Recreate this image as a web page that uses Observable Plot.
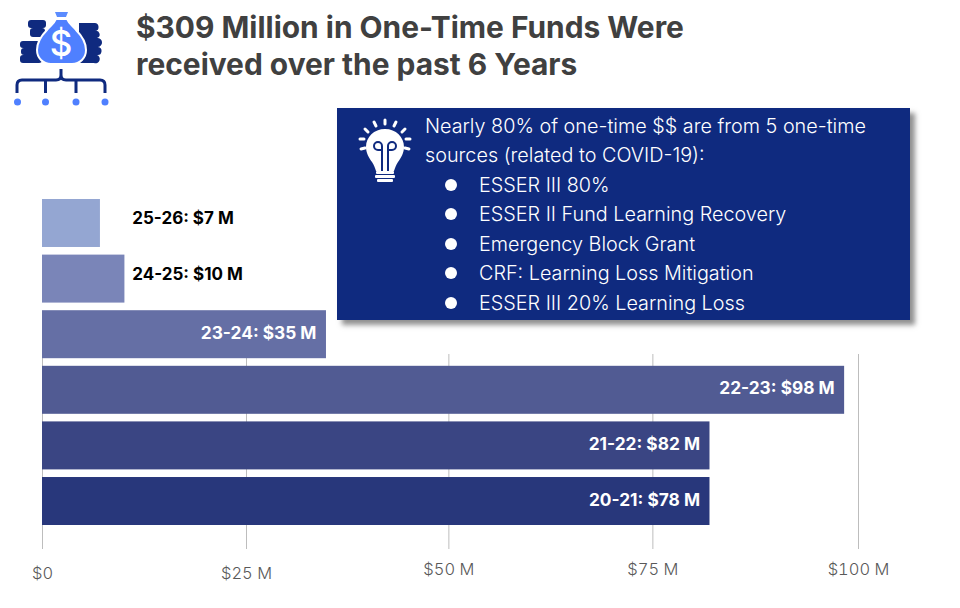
<!DOCTYPE html>
<html lang="en">
<head>
<meta charset="UTF-8">
<title>One-Time Funds</title>
<style>
  body { margin: 0; background: #fff; font-family: Inter, "Open Sans", sans-serif; }
  #page { position: relative; width: 960px; height: 608px; overflow: hidden; }
  #chart { position: absolute; left: 0; top: 0; }
  #icon { position: absolute; left: 0; top: 0; }
  h1 { position: absolute; left: 136px; top: 9px; margin: 0; font-size: 29.9px; line-height: 37px; font-weight: 700; color: #404040; white-space: nowrap; }
  #panel { position: absolute; left: 337px; top: 108px; width: 573px; height: 212px; background: #0f2a7f; color: #fff; box-shadow: 5px 5px 5px rgba(70,70,70,.6); font-size: 19.8px; font-weight: 300; }
  #panel .line { position: absolute; left: 88px; white-space: nowrap; line-height: 29px; }
  #panel ul { position: absolute; left: 0; top: 63px; margin: 0; padding: 0; list-style: none; }
  #panel li { position: relative; padding-left: 142px; height: 29.4px; line-height: 29.4px; white-space: nowrap; }
  #panel li::before { content: ""; position: absolute; left: 108px; top: 8px; width: 12px; height: 12px; border-radius: 50%; background: #fff; }
  #bulb { position: absolute; left: 0; top: 0; }
</style>
<script src="https://cdn.jsdelivr.net/npm/d3@7"></script>
<script src="https://cdn.jsdelivr.net/npm/@observablehq/plot@0.6"></script>
</head>
<body>
<div id="page">
  <div id="chart"></div>
  <svg id="icon" width="130" height="110" viewBox="0 0 130 110">
    <!-- coin stacks -->
    <g fill="#0f2a7f">
      <rect x="28" y="20" width="18" height="8" rx="3"/><rect x="30" y="28" width="15" height="9" rx="3"/>
      <rect x="20" y="41" width="20" height="7" rx="3"/><rect x="21" y="48" width="20" height="7" rx="3"/><rect x="20" y="55" width="22" height="8" rx="3"/>
      <path d="M79 23h15a3 3 0 0 1 1 8a3 3 0 0 1 2 7a3 3 0 0 1 1 9a3 3 0 0 1-1 8a3 3 0 0 1-3 8H79z"/>
    </g>
    <!-- bag -->
    <path fill="#5b8cff" d="M55 12h13l-2 5h-9z"/>
    <path fill="#4f80ff" stroke="#fff" stroke-width="2" d="M56 19h11c2 5 6 7 9 11 6 6 10 14 10 20 0 8-6 14-14 14H51c-8 0-14-6-14-14 0-6 4-14 10-20 3-4 7-6 9-11z"/>
    <text x="61" y="56" text-anchor="middle" font-size="35" font-weight="500" fill="#fff">$</text>
    <!-- tree -->
    <path fill="none" stroke="#0f2a7f" stroke-width="3" d="M61 69v6q0 5-5 5H22q-5 0-5 5v8M61 75q0 5 5 5h34q5 0 5 5v8M45.500 80v13M76 80v13"/>
    <g fill="#4f80ff">
      <circle cx="17.500" cy="102" r="3.500"/><circle cx="45.500" cy="102" r="3.500"/><circle cx="76" cy="102" r="3.500"/><circle cx="105" cy="102" r="3.500"/>
    </g>
  </svg>
  <h1>$309 Million in One-Time Funds Were<br>received over the past 6 Years</h1>
  <div id="panel">
    <svg id="bulb" width="90" height="90" viewBox="0 0 90 90">
      <g fill="none" stroke="#fff" stroke-width="3" stroke-linecap="round">
        <path d="M48 12v4M37 14l2 4M59 14l-2 4M28 21l3 3M68 21l-3 3M23 31h4M73 31h-4M24 41l4-1M72 41l-4-1"/>
      </g>
      <path fill="#fff" d="M48 21c-11 0-19 8-19 18 0 6 3 11 6 15 2 3 3 6 4 9h18c1-3 2-6 4-9 3-4 6-9 6-15 0-10-8-18-19-18z"/>
      <g fill="none" stroke="#0f2a7f" stroke-width="2">
        <path d="M45 63V38a4 4 0 1 0-4 4h4M51 63V38a4 4 0 1 1 4 4h-4"/>
      </g>
      <g fill="#fff">
        <rect x="39" y="63" width="18" height="3" rx="1"/><rect x="38" y="67" width="20" height="3" rx="1"/><rect x="40" y="71" width="16" height="3" rx="1"/>
      </g>
    </svg>
    <div class="line" style="top:4px">Nearly 80% of one-time $$ are from 5 one-time</div>
    <div class="line" style="top:33px">sources (related to COVID-19):</div>
    <ul id="sources"></ul>
  </div>
</div>
<script>
// Values
const years = ["25-26", "24-25", "23-24", "22-23", "21-22", "20-21"];
const barValues = [7.1, 10.1, 34.8, 98.3, 81.8, 81.8];
const labelValues = [7, 10, 35, 98, 82, 78];
const barColors = ["#94a6d2", "#7a85b8", "#656fa5", "#515b93", "#3a4583", "#28377b"];
// gridlines in the original are not quite evenly spaced
const tickValues = [0, 25, 49.8, 74.8, 100];
const tickLabels = ["$0", "$25 M", "$50 M", "$75 M", "$100 M"];
const sources = [
  "ESSER III 80%",
  "ESSER II Fund Learning Recovery",
  "Emergency Block Grant",
  "CRF: Learning Loss Mitigation",
  "ESSER III 20% Learning Loss"
];

const rows = years.map((year, i) => ({
  year,
  value: barValues[i],
  label: `${year}: $${labelValues[i]} M`
}));
const outside = rows.filter(d => d.value < 15);
const inside = rows.filter(d => d.value >= 15);
const tickLabel = v => tickLabels[tickValues.indexOf(v)];

const axisStyle = {
  anchor: "bottom",
  tickSize: 0,
  tickFormat: tickLabel,
  fontSize: 16.5,
  fontWeight: 300,
  fill: "#595959",
  label: null
};

const plot = Plot.plot({
  width: 960,
  height: 608,
  marginTop: 0,
  marginLeft: 0,
  marginRight: 0,
  marginBottom: 59,
  style: {background: "transparent", fontFamily: "Inter, sans-serif"},
  x: {domain: [0, 100], range: [42, 858], axis: null},
  y: {domain: years, range: [199, 525], paddingInner: 0.137, paddingOuter: 0, round: false, axis: null},
  color: {domain: years, range: barColors},
  marks: [
    Plot.ruleX(tickValues, {stroke: "#bdbdbd", strokeWidth: 1, insetTop: 354}),
    Plot.barX(rows, {x: "value", y: "year", fill: "year"}),
    Plot.text(inside, {x: "value", y: "year", text: "label", textAnchor: "end", dx: -10, dy: -1.5, fill: "#fff", fontWeight: 700, fontSize: 17.3}),
    Plot.text(outside, {x: 11, y: "year", text: "label", textAnchor: "start", dy: -5, fill: "#000", fontWeight: 700, fontSize: 17}),
    // the first two tick labels sit slightly lower in the original
    Plot.axisX(tickValues.slice(0, 2), {...axisStyle, dy: 9}),
    Plot.axisX(tickValues.slice(2), {...axisStyle, dy: 5})
  ]
});
document.getElementById("chart").appendChild(plot);

d3.select("#sources").selectAll("li").data(sources).join("li").text(d => d);
</script>
</body>
</html>
